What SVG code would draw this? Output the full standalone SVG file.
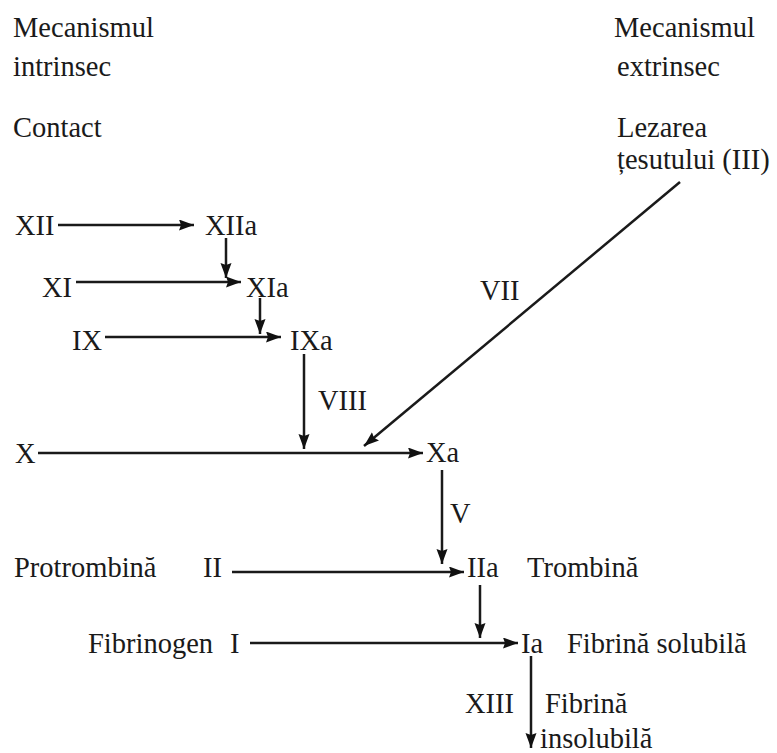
<svg xmlns="http://www.w3.org/2000/svg" width="777" height="753" viewBox="0 0 777 753">
<defs>
<marker id="ah" markerUnits="userSpaceOnUse" markerWidth="16" markerHeight="12" refX="15" refY="5.5" orient="auto">
<path d="M0,0 L15,5.5 L0,11 L2,5.5 z" fill="#111"/>
</marker>
<style>
text{font-family:"Liberation Serif","Times New Roman",serif;font-size:28.5px;fill:#1a1a1a}
.c line{stroke:#1a1a1a;stroke-width:2.5;marker-end:url(#ah)}
</style>
</defs>
<rect width="777" height="753" fill="#fff"/>
<g id="hdr-intrinsec"><text x="13" y="37">Mecanismul</text><text x="13" y="76">intrinsec</text></g>
<g id="hdr-extrinsec"><text x="614" y="37">Mecanismul</text><text x="617" y="76">extrinsec</text></g>
<g id="contact"><text x="13" y="137">Contact</text></g>
<g id="lezarea"><text x="617" y="137">Lezarea</text><text x="617" y="169">țesutului (III)</text></g>
<g id="n-XII"><text x="15" y="235">XII</text></g>
<g id="n-XIIa"><text x="205" y="235">XIIa</text></g>
<g id="n-XI"><text x="42" y="297">XI</text></g>
<g id="n-XIa"><text x="246" y="297">XIa</text></g>
<g id="n-IX"><text x="72" y="350">IX</text></g>
<g id="n-IXa"><text x="290" y="350">IXa</text></g>
<g id="n-X"><text x="15" y="463">X</text></g>
<g id="n-Xa"><text x="426" y="462">Xa</text></g>
<g id="n-II"><text x="14" y="577">Protrombină</text><text x="203" y="577">II</text></g>
<g id="n-IIa"><text x="467" y="577">IIa</text><text x="527" y="577">Trombină</text></g>
<g id="n-I"><text x="88" y="653">Fibrinogen</text><text x="230" y="653">I</text></g>
<g id="n-Ia"><text x="521" y="653">Ia</text><text x="567" y="653">Fibrină solubilă</text></g>
<g id="n-fin"><text x="545" y="713">Fibrină</text><text x="540" y="748">insolubilă</text></g>
<g id="labels"><text x="318" y="410">VIII</text><text x="480" y="300">VII</text><text x="450" y="523">V</text><text x="465" y="713">XIII</text></g>
<g class="c" id="connectors">
<line x1="58" y1="225" x2="194" y2="225"/>
<line x1="226" y1="238" x2="226" y2="278"/>
<line x1="76" y1="282" x2="241" y2="282"/>
<line x1="260" y1="298" x2="260" y2="334"/>
<line x1="105" y1="337" x2="281" y2="337"/>
<line x1="304" y1="354" x2="304" y2="449"/>
<line x1="38" y1="453" x2="423" y2="453"/>
<line x1="680" y1="182" x2="364" y2="446"/>
<line x1="442" y1="470" x2="442" y2="564"/>
<line x1="232" y1="572" x2="464" y2="572"/>
<line x1="480" y1="585" x2="480" y2="638"/>
<line x1="250" y1="643" x2="518" y2="643"/>
<line x1="531" y1="656" x2="531" y2="748"/>
</g>
</svg>
